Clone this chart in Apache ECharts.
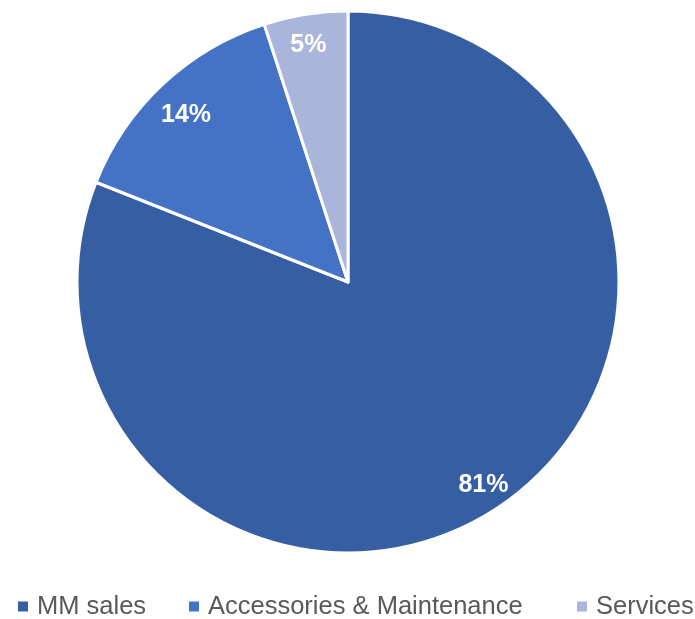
<!DOCTYPE html>
<html>
<head>
<meta charset="utf-8">
<style>
  html, body { margin: 0; padding: 0; background: #ffffff; }
  #chart { width: 695px; height: 619px; }
</style>
<script src="https://cdn.jsdelivr.net/npm/echarts@6/dist/echarts.min.js"></script>
</head>
<body>
<div id="chart"></div>
<script>
// Revenue split by segment (percent)
const categories = ['MM sales', 'Accessories & Maintenance', 'Services'];
const shares = [81, 14, 5];
const colors = ['#365FA3', '#4472C4', '#A9B5DA'];

const pieData = categories.map((name, i) => ({
  name: name,
  value: shares[i],
  itemStyle: { color: colors[i] }
}));

const center = [348, 282];
const outerR = 271;
const font = 'Liberation Sans, Arial, sans-serif';

// small nudges (dx, dy) of each percent label inside its slice
const labelShift = [[0, 4], [3, 9], [-2, 1]];

// one legend block per entry so each sits at its own x position
const legendLeft = [16, 187, 575];
const legends = categories.map((name, i) => ({
  data: [name],
  left: legendLeft[i],
  top: 593,
  padding: 0,
  icon: 'rect',
  itemWidth: 12,
  itemHeight: 12,
  selectedMode: false,
  textStyle: {
    fontFamily: font,
    fontSize: 25.5,
    lineHeight: 27,
    color: '#595959',
    padding: [0, 0, 0, 3]
  }
}));

const chart = echarts.init(document.getElementById('chart'), null, { renderer: 'canvas' });
chart.setOption({
  animation: false,
  backgroundColor: '#ffffff',
  legend: legends,
  series: [
    {
      name: 'share',
      type: 'pie',
      center: center,
      radius: [0, outerR],
      startAngle: 90,
      clockwise: true,
      silent: true,
      data: pieData,
      itemStyle: { borderColor: '#ffffff', borderWidth: 3 },
      label: { show: false },
      labelLine: { show: false }
    },
    {
      // transparent ring used only to place the percent labels near the rim
      name: 'labels',
      type: 'pie',
      center: center,
      radius: [205, outerR],
      startAngle: 90,
      clockwise: true,
      silent: true,
      data: categories.map((name, i) => ({ name: name, value: shares[i] })),
      itemStyle: { color: 'rgba(0,0,0,0)', borderWidth: 0 },
      label: {
        show: true,
        position: 'inside',
        formatter: p => p.value + '%',
        fontFamily: font,
        fontSize: 25,
        fontWeight: 'bold',
        color: '#ffffff'
      },
      labelLayout: p => ({ dx: labelShift[p.dataIndex][0], dy: labelShift[p.dataIndex][1] }),
      labelLine: { show: false }
    }
  ]
});
</script>
</body>
</html>
